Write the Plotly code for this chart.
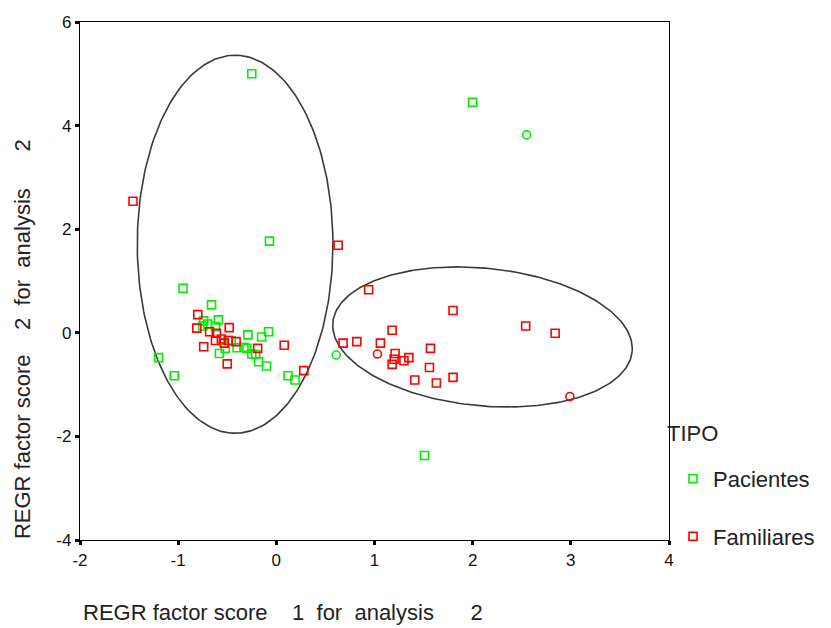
import numpy as np
import plotly.graph_objects as go

# ---------------- data ----------------
pac_x = [-0.25, 2.00, 2.55, -0.07, -0.95, -0.66, -1.20, -1.04, 0.61, 1.51,
         0.12, 0.19, -0.74, -0.70, -0.75, -0.59, -0.29, -0.15, -0.08, -0.58,
         -0.52, -0.40, -0.33, -0.25, -0.21, -0.18, -0.10, -0.46, -0.62, -0.30]
pac_y = [5.00, 4.45, 3.82, 1.77, 0.86, 0.54, -0.48, -0.83, -0.43, -2.37,
         -0.83, -0.91, 0.23, 0.17, 0.13, 0.25, -0.04, -0.08, 0.02, -0.40,
         -0.30, -0.29, -0.28, -0.41, -0.42, -0.56, -0.64, -0.15, 0.12, -0.30]
pac_sym = ["square-open"] * len(pac_x)
pac_sym[2] = "circle-open"
pac_sym[8] = "circle-open"

fam_x = [-1.46, 0.63, 0.94, 1.80, 2.54, 2.84, 2.99, 0.68, 0.82, 1.06,
         1.18, 1.03, 1.21, 1.20, 1.18, 1.30, 1.35, 1.57, 1.56, 1.41,
         1.63, 1.80, -0.80, -0.81, -0.68, -0.61, -0.48, -0.62, -0.56, -0.49,
         -0.41, -0.74, -0.19, 0.08, -0.50, 0.28, -0.53]
fam_y = [2.54, 1.69, 0.83, 0.43, 0.13, -0.01, -1.23, -0.20, -0.17, -0.20,
         0.05, -0.41, -0.40, -0.51, -0.61, -0.54, -0.48, -0.30, -0.67, -0.91,
         -0.97, -0.86, 0.35, 0.09, 0.02, -0.01, 0.10, -0.15, -0.12, -0.15,
         -0.17, -0.27, -0.30, -0.24, -0.60, -0.73, -0.20]
fam_sym = ["square-open"] * len(fam_x)
fam_sym[6] = "circle-open"
fam_sym[11] = "circle-open"

x_ticks = [-2, -1, 0, 1, 2, 3, 4]
x_labels = ["-2", "-1", "0", "1", "2", "3", "4"]
y_ticks = [-4, -2, 0, 2, 4, 6]
y_labels = ["-4", "-2", "0", "2", "4", "6"]

# ellipses: centre (data), semi-axes (px), rotation (deg, clockwise on screen)
ell1 = dict(cx=-0.42, cy=1.71, a=98.0, b=189.0, rot=0.0)
ell2 = dict(cx=2.10, cy=-0.08, a=150.6, b=68.8, rot=5.6)

# ---------------- layout geometry ----------------
W, H = 831, 628
ML, MR, MT, MB = 80, 161, 22, 88
PW, PH = W - ML - MR, H - MT - MB
XS = PW / 6.0
YS = PH / 10.0

def ellipse(e):
    t = np.linspace(0, 2 * np.pi, 241)
    th = np.radians(e["rot"])
    dx = e["a"] * np.cos(t) * np.cos(th) - e["b"] * np.sin(t) * np.sin(th)
    dy = e["a"] * np.cos(t) * np.sin(th) + e["b"] * np.sin(t) * np.cos(th)
    return e["cx"] + dx / XS, e["cy"] - dy / YS

def py(pix):
    return (PH - (pix - MT)) / PH

def px(pix):
    return (pix - ML) / PW

fig = go.Figure()
for e in (ell1, ell2):
    ex, ey = ellipse(e)
    fig.add_trace(go.Scatter(x=ex, y=ey, mode="lines", showlegend=False,
                             hoverinfo="skip",
                             line=dict(color="#3a3a3a", width=1.6)))

fig.add_trace(go.Scatter(x=pac_x, y=pac_y, mode="markers", name="Pacientes",
                         legendgroup="p",
                         marker=dict(symbol=pac_sym, size=8, color="#00ee00",
                                     line=dict(width=1.6, color="#00ee00"))))
fig.add_trace(go.Scatter(x=fam_x, y=fam_y, mode="markers", name="Familiares",
                         legendgroup="f",
                         marker=dict(symbol=fam_sym, size=8, color="#ff0000",
                                     line=dict(width=1.6, color="#ff0000"))))

nb = "\u00a0"
TF = dict(size=22, color="#222")
title_x = f"REGR factor score{nb*4}1{nb*2}for{nb*2}analysis{nb*6}2"
title_y = f"REGR factor score{nb*4}2{nb*2}for{nb*2}analysis{nb*6}2"
fig.add_annotation(text=title_x,
                   xref="paper", yref="paper", x=px(81), y=py(612),
                   xanchor="left", yanchor="middle", showarrow=False, font=TF)
fig.add_annotation(text=title_y,
                   xref="paper", yref="paper", x=px(22), y=py(541),
                   xanchor="center", yanchor="bottom", textangle=-90,
                   showarrow=False, font=TF)
fig.add_annotation(text="TIPO", xref="paper", yref="paper",
                   x=px(666), y=py(433), xanchor="left", yanchor="middle",
                   showarrow=False, font=TF)

axis_common = dict(showgrid=False, zeroline=False, showline=True, mirror=True,
                   linecolor="black", linewidth=1.3, ticks="outside",
                   ticklen=4, tickwidth=3, tickcolor="black",
                   tickfont=dict(family="Liberation Sans Narrow, Arial", size=17,
                                 color="#111"))
fig.update_layout(
    width=W, height=H,
    margin=dict(l=ML, r=MR, t=MT, b=MB),
    paper_bgcolor="white", plot_bgcolor="white",
    font=dict(family="Arial, Liberation Sans, sans-serif", color="#222"),
    xaxis=dict(range=[-2, 4], tickvals=x_ticks, ticktext=x_labels, **axis_common),
    yaxis=dict(range=[-4, 6], tickvals=y_ticks, ticktext=y_labels, **axis_common),
    showlegend=True,
    legend=dict(x=px(673), xanchor="left",
                y=py(458), yanchor="top",
                font=dict(size=22), traceorder="grouped", tracegroupgap=26,
                bgcolor="rgba(0,0,0,0)"),
)
fig.write_html("out.html")
